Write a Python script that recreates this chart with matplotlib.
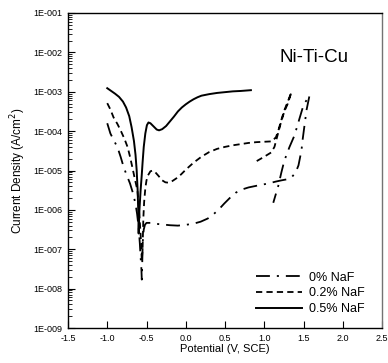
import numpy as np
import matplotlib
matplotlib.use("Agg")
import matplotlib.pyplot as plt

##### Data (potential in V vs SCE, log10 of current density) #####
v_0 = [-1.0, -0.98, -0.96, -0.92, -0.87, -0.83, -0.79, -0.75, -0.71, -0.67, -0.64, -0.62,
       -0.60, -0.585, -0.575, -0.565, -0.56, -0.555, -0.55, -0.545, -0.535, -0.52, -0.50,
       -0.45, -0.4, -0.3, -0.2, -0.1, 0.0, 0.1, 0.19, 0.28, 0.36, 0.43, 0.49, 0.56, 0.64,
       0.72, 0.8, 0.92, 1.05, 1.15, 1.22, 1.3, 1.346, 1.4, 1.436, 1.474, 1.49, 1.513, 1.54,
       1.577, 1.5, 1.449, 1.385, 1.32, 1.256, 1.218, 1.18, 1.115]
logi_0 = [-3.80, -3.93, -4.06, -4.22, -4.41, -4.65, -4.92, -5.13, -5.33, -5.59, -5.85, -6.1,
          -6.45, -6.85, -7.2, -7.5, -7.77, -7.4, -7.0, -6.7, -6.5, -6.38, -6.33,
          -6.33, -6.35, -6.37, -6.39, -6.40, -6.38, -6.35, -6.30, -6.22, -6.10, -5.97, -5.84,
          -5.70, -5.56, -5.48, -5.43, -5.38, -5.33, -5.28, -5.25, -5.22, -5.18, -5.05, -4.87,
          -4.49, -4.2, -3.85, -3.45, -3.09, -3.34, -3.68, -4.11, -4.41, -4.75, -5.05, -5.38,
          -5.82]

v_02 = [-1.0, -0.96, -0.92, -0.87, -0.83, -0.78, -0.74, -0.71, -0.68, -0.65, -0.615, -0.6,
        -0.585, -0.57, -0.56, -0.55, -0.545, -0.54, -0.53, -0.515, -0.5, -0.48, -0.45, -0.42,
        -0.39, -0.35, -0.3, -0.26, -0.22, -0.18, -0.12, -0.06, 0.0, 0.1, 0.2, 0.3, 0.4, 0.5,
        0.6, 0.7, 0.8, 0.9, 1.0, 1.1, 1.15, 1.18, 1.22, 1.256, 1.3, 1.346,
        1.3, 1.256, 1.21, 1.17, 1.13, 1.09, 1.0, 0.87]
logi_02 = [-3.29, -3.45, -3.65, -3.82, -3.98, -4.2, -4.41, -4.65, -4.92, -5.2, -5.51, -5.9,
           -6.3, -6.8, -7.3, -7.0, -6.6, -6.2, -5.8, -5.45, -5.25, -5.12, -5.02, -5.0,
           -5.04, -5.13, -5.25, -5.3, -5.31, -5.28, -5.2, -5.1, -4.98, -4.8, -4.65, -4.53,
           -4.45, -4.4, -4.36, -4.33, -4.3, -4.28, -4.27, -4.26, -4.15, -3.98, -3.7, -3.47,
           -3.25, -3.01, -3.3, -3.5, -3.8, -4.1, -4.4, -4.54, -4.65, -4.8]

v_05 = [-1.0, -0.95, -0.9, -0.85, -0.8, -0.76, -0.72, -0.69, -0.66, -0.64, -0.625, -0.613,
        -0.605, -0.6, -0.59, -0.575, -0.56, -0.55, -0.535, -0.515, -0.495, -0.475, -0.45,
        -0.41, -0.37, -0.34, -0.3, -0.25, -0.2, -0.15, -0.1, -0.05, 0.0, 0.05, 0.1, 0.15, 0.2,
        0.3, 0.4, 0.5, 0.6, 0.7, 0.83]
logi_05 = [-2.91, -2.98, -3.05, -3.13, -3.25, -3.4, -3.62, -3.9, -4.25, -4.6, -5.0, -5.5,
           -6.0, -6.6, -6.0, -5.5, -5.1, -4.8, -4.4, -4.06, -3.85, -3.78, -3.8,
           -3.88, -3.96, -3.98, -3.95, -3.87, -3.75, -3.63, -3.5, -3.4, -3.32, -3.25, -3.19,
           -3.14, -3.1, -3.06, -3.03, -3.01, -2.99, -2.98, -2.96]

series_labels = ["0% NaF", "0.2% NaF", "0.5% NaF"]
x_ticks = [-1.5, -1.0, -0.5, 0.0, 0.5, 1.0, 1.5, 2.0, 2.5]
y_ticks = [1e-9, 1e-8, 1e-7, 1e-6, 1e-5, 1e-4, 1e-3, 1e-2, 1e-1]
y_tick_labels = ["1E-009", "1E-008", "1E-007", "1E-006", "1E-005",
                 "1E-004", "1E-003", "1E-002", "1E-001"]
##########################################################################################

plt.rcParams["font.family"] = ["Liberation Sans", "DejaVu Sans"]
plt.rcParams["lines.scale_dashes"] = False

fig = plt.figure(figsize=(3.88, 3.63), dpi=100)
ax = fig.add_axes([68 / 388, 35 / 363, 314 / 388, 315 / 363])

ax.plot(v_0, 10 ** np.array(logi_0), color="black", lw=1.3,
        dashes=(10, 5, 1.5, 5), label=series_labels[0])
ax.plot(v_02, 10 ** np.array(logi_02), color="black", lw=1.3,
        dashes=(4.5, 3), label=series_labels[1])
ax.plot(v_05, 10 ** np.array(logi_05), color="black", lw=1.4,
        label=series_labels[2])

ax.set_yscale("log")
ax.set_xlim(-1.5, 2.5)
ax.set_ylim(1e-9, 1e-1)
ax.set_xticks(x_ticks)
ax.set_xticklabels([f"{t:.1f}" for t in x_ticks], fontsize=6.5)
ax.set_yticks(y_ticks)
ax.set_yticklabels(y_tick_labels, fontsize=6.5)
ax.yaxis.set_minor_locator(matplotlib.ticker.LogLocator(base=10, subs=np.arange(2, 10)))
ax.yaxis.set_minor_formatter(matplotlib.ticker.NullFormatter())
ax.tick_params(which="major", direction="in", length=5, width=0.8,
               top=False, right=False, pad=4)
ax.tick_params(which="minor", direction="in", length=3, width=0.6,
               top=False, right=False)

for s in ax.spines.values():
    s.set_linewidth(1.0)
ax.spines["right"].set_color("0.45")

ax.set_xlabel("Potential (V, SCE)", fontsize=8, labelpad=1)
ax.set_ylabel("Current Density (A/cm$^2$)", fontsize=8.5, labelpad=4)

ax.text(0.675, 0.86, "Ni-Ti-Cu", transform=ax.transAxes, fontsize=13.5, ha="left", va="center")

ax.legend(loc="lower right", bbox_to_anchor=(0.98, 0.005), frameon=False, fontsize=9,
          handlelength=3.7, handletextpad=0.5, labelspacing=0.3)

fig.savefig("out.png", dpi=100)
